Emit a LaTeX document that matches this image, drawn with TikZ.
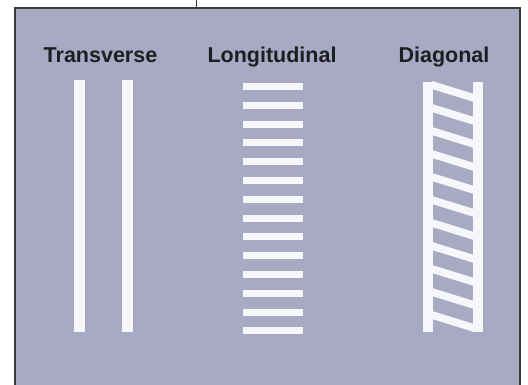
\documentclass[tikz,border=0pt]{standalone}
\usepackage{fontspec}
\setmainfont{Liberation Sans}
\definecolor{panel}{HTML}{A8A9C2}
\definecolor{mark}{HTML}{F7F7FB}
\definecolor{edge}{HTML}{3A3A40}
\definecolor{ink}{HTML}{1E1E22}
\begin{document}
\begin{tikzpicture}[x=1pt,y=-1pt,
  lbl/.style={anchor=base,font=\bfseries\fontsize{21.5}{24}\selectfont,text=ink,inner sep=0pt},
  paint/.style={fill=mark,draw=none}]
\useasboundingbox (0,0) rectangle (528,385);
\fill[white] (0,0) rectangle (528,385);
% panel
\fill[panel] (15,8) rectangle (520,385);
\draw[edge,line width=1.2pt] (15,385) -- (15,8) -- (520,8) -- (520,385);
\draw[edge,line width=1pt] (196,0) -- (196,8);
% labels
\node[lbl] (t1) at (100.5,63) {Transverse};
\node[lbl] (t2) at (272,63) {Longitudinal};
\node[lbl] (t3) at (444,63) {Diagonal};
% transverse
\fill[paint] (74,80) rectangle (85,332);
\fill[paint] (122,80) rectangle (133,332);
% longitudinal
\foreach \k in {0,...,13}{
  \fill[paint] (243,{83+18.8*\k}) rectangle (303,{90+18.8*\k});
}
% diagonal
\fill[paint] (423,82) rectangle (433,332);
\fill[paint] (473,82) rectangle (483,332);
\begin{scope}
  \clip (432,82) rectangle (474,332);
  \foreach \k in {0,...,11}{
    \fill[paint] (432,{81+23*\k}) -- (474,{94+23*\k}) -- (474,{102+23*\k}) -- (432,{89+23*\k}) -- cycle;
  }
\end{scope}
\end{tikzpicture}
\end{document}
